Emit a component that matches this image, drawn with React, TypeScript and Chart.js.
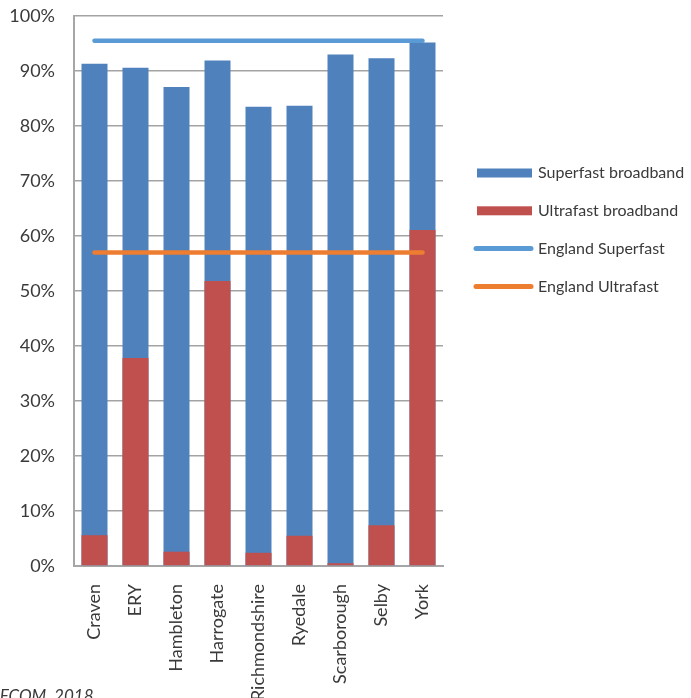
import React, { useEffect, useRef } from "react";
import { Chart, registerables } from "chart.js";

Chart.register(...registerables);

// North Yorkshire districts and broadband coverage (% of premises)
const districts = [
  "Craven",
  "ERY",
  "Hambleton",
  "Harrogate",
  "Richmondshire",
  "Ryedale",
  "Scarborough",
  "Selby",
  "York",
];
const superfast = [91.3, 90.6, 87.1, 91.9, 83.5, 83.7, 93.0, 92.3, 95.2];
const ultrafast = [5.6, 37.8, 2.6, 51.8, 2.4, 5.5, 0.5, 7.4, 61.1];
const englandSuperfast = [95.5, 95.5, 95.5, 95.5, 95.5, 95.5, 95.5, 95.5, 95.5];
const englandUltrafast = [57, 57, 57, 57, 57, 57, 57, 57, 57];
const yTicks = [0, 10, 20, 30, 40, 50, 60, 70, 80, 90, 100];

const FONT = "Lato, 'Open Sans', sans-serif";
const TEXT = "#3a3a3a";

// Legend on the right, drawn in dataset order (not draw order)
const sideLegend = {
  id: "sideLegend",
  afterDraw(chart: any) {
    const ctx = chart.ctx as CanvasRenderingContext2D;
    const x0 = 477;
    const x1 = 532;
    const top = 173;
    const step = 37.8;
    ctx.save();
    chart.data.datasets.forEach((ds: any, i: number) => {
      const y = top + i * step;
      if (ds.type === "line") {
        ctx.strokeStyle = ds.borderColor;
        ctx.lineWidth = 5;
        ctx.lineCap = "round";
        ctx.beginPath();
        ctx.moveTo(x0 - 1, y);
        ctx.lineTo(x1 - 1, y);
        ctx.stroke();
      } else {
        ctx.fillStyle = ds.backgroundColor;
        ctx.fillRect(x0, y - 4.5, x1 - x0, 9);
      }
      ctx.fillStyle = TEXT;
      ctx.font = `16px ${FONT}`;
      ctx.textBaseline = "middle";
      ctx.textAlign = "left";
      ctx.fillText(ds.label, 538, y);
    });
    ctx.restore();
  },
};

export default function App() {
  const canvasRef = useRef<HTMLCanvasElement | null>(null);

  useEffect(() => {
    const canvas = canvasRef.current;
    if (!canvas) return;
    const chart = new Chart(canvas, {
      type: "bar",
      data: {
        labels: districts,
        datasets: [
          {
            type: "bar",
            label: "Superfast broadband",
            data: superfast,
            backgroundColor: "#4F81BD",
            grouped: false,
            order: 3,
            categoryPercentage: 1,
            barPercentage: 0.634,
          } as any,
          {
            type: "bar",
            label: "Ultrafast broadband",
            data: ultrafast,
            backgroundColor: "#C0504D",
            grouped: false,
            order: 2,
            categoryPercentage: 1,
            barPercentage: 0.634,
          } as any,
          {
            type: "line",
            label: "England Superfast",
            data: englandSuperfast,
            borderColor: "#5B9BD5",
            backgroundColor: "#5B9BD5",
            borderWidth: 4.5,
            borderCapStyle: "round",
            pointRadius: 0,
            order: 1,
          } as any,
          {
            type: "line",
            label: "England Ultrafast",
            data: englandUltrafast,
            borderColor: "#ED7D31",
            backgroundColor: "#ED7D31",
            borderWidth: 4.5,
            borderCapStyle: "round",
            pointRadius: 0,
            order: 0,
          } as any,
        ],
      },
      options: {
        animation: false,
        responsive: false,
        devicePixelRatio: 1,
        layout: { padding: { top: 16, right: 248, bottom: 0, left: 0 } },
        plugins: {
          legend: { display: false },
          tooltip: { enabled: false },
        },
        scales: {
          x: {
            grid: { display: false },
            border: { display: true, color: "#a6a6a6", width: 2 },
            ticks: {
              autoSkip: false,
              minRotation: 90,
              maxRotation: 90,
              padding: 10,
              color: TEXT,
              font: { family: FONT, size: 18 },
            },
            afterFit(scale: any) {
              scale.height = 132;
            },
          },
          y: {
            min: 0,
            max: 100,
            afterBuildTicks(scale: any) {
              scale.ticks = yTicks.map((v) => ({ value: v }));
            },
            grid: {
              color: "#a3a3a3",
              lineWidth: 1.5,
              drawTicks: false,
            },
            border: { display: true, color: "#a6a6a6", width: 2 },
            ticks: {
              padding: 19,
              color: TEXT,
              font: { family: FONT, size: 18 },
              callback: (v: any) => `${v}%`,
            },
            afterFit(scale: any) {
              scale.width = 74;
              scale.paddingTop = 0;
              scale.paddingBottom = 0;
            },
          },
        },
      },
      plugins: [sideLegend],
    });
    return () => chart.destroy();
  }, []);

  return (
    <div
      style={{
        position: "fixed",
        left: 0,
        top: 0,
        width: 691,
        height: 698,
        overflow: "hidden",
        background: "#fff",
      }}
    >
      <canvas ref={canvasRef} width={691} height={698} style={{ display: "block" }} />
      <div
        style={{
          position: "absolute",
          left: -13,
          top: 685,
          fontFamily: FONT,
          fontStyle: "italic",
          fontSize: 17,
          color: TEXT,
          whiteSpace: "nowrap",
        }}
      >
        OFCOM, 2018
      </div>
    </div>
  );
}
